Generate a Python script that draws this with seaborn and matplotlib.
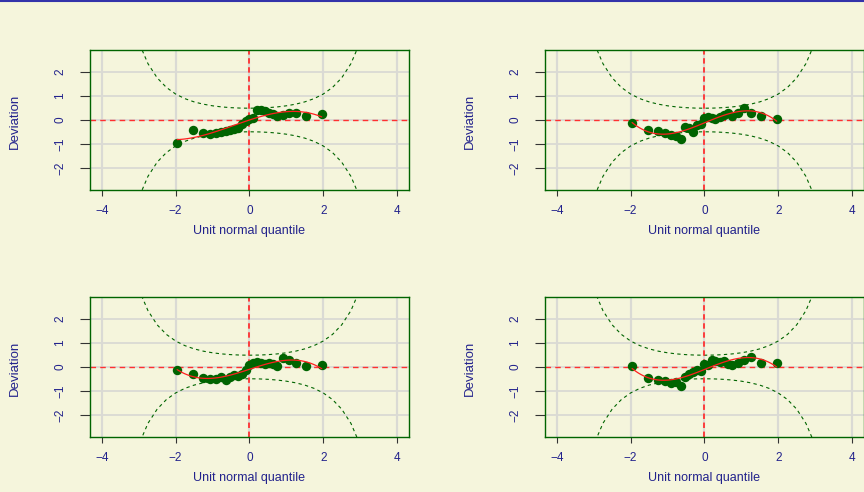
import math
import numpy as np
import pandas as pd
import seaborn as sns
import matplotlib.pyplot as plt
from matplotlib.lines import Line2D

# unit normal quantiles of the 25 residuals
quantiles = [-1.96, -1.52, -1.26, -1.07, -0.90, -0.76, -0.64, -0.52, -0.41, -0.30,
             -0.20, -0.10, 0.00, 0.10, 0.20, 0.30, 0.41, 0.52, 0.64, 0.76,
             0.90, 1.07, 1.26, 1.52, 1.96]

# deviations for the four worm plots
dev_1 = [-0.95, -0.42, -0.55, -0.58, -0.55, -0.50, -0.44, -0.40, -0.36, -0.33,
         -0.17, -0.05, 0.05, 0.08, 0.40, 0.42, 0.36, 0.30, 0.25, 0.18,
         0.22, 0.28, 0.30, 0.18, 0.25]
dev_2 = [-0.14, -0.42, -0.45, -0.55, -0.62, -0.68, -0.80, -0.30, -0.35, -0.50,
         -0.22, -0.15, 0.10, 0.12, 0.10, 0.05, 0.12, 0.20, 0.30, 0.18,
         0.30, 0.48, 0.28, 0.17, 0.05]
dev_3 = [-0.12, -0.30, -0.44, -0.50, -0.52, -0.42, -0.54, -0.42, -0.33, -0.38,
         -0.28, -0.12, 0.10, 0.15, 0.20, 0.16, 0.12, 0.16, 0.14, 0.04,
         0.36, 0.28, 0.18, 0.04, 0.07]
dev_4 = [0.04, -0.45, -0.55, -0.60, -0.65, -0.62, -0.78, -0.42, -0.30, -0.22,
         -0.12, -0.18, 0.12, 0.10, 0.30, 0.25, 0.22, 0.25, 0.12, 0.10,
         0.15, 0.28, 0.40, 0.18, 0.18]

x_ticks = [-4, -2, 0, 2, 4]
y_ticks = [-2, -1, 0, 1, 2]

bg = "#f5f5dc"
navy = "#22228c"
dkgreen = "#006400"

sns.set_theme(style="white", rc={"axes.facecolor": bg, "figure.facecolor": bg})
plt.rcParams["font.family"] = ["Liberation Sans", "DejaVu Sans"]

# 95% confidence bands of the worm plot
n = len(quantiles)
z = np.arange(-4.0, 4.001, 0.25)
p = 0.5 * (1 + np.vectorize(math.erf)(z / math.sqrt(2)))
dens = np.exp(-z ** 2 / 2) / math.sqrt(2 * math.pi)
high = 1.959964 * np.sqrt(p * (1 - p) / n) / dens

fig = plt.figure(figsize=(8.64, 4.92), dpi=100)
positions = [
    [0.1042, 0.6138, 0.3690, 0.2846],
    [0.6308, 0.6138, 0.3690, 0.2846],
    [0.1042, 0.1118, 0.3690, 0.2846],
    [0.6308, 0.1118, 0.3690, 0.2846],
]

for pos, dev in zip(positions, [dev_1, dev_2, dev_3, dev_4]):
    ax = fig.add_axes(pos)
    df = pd.DataFrame({"q": quantiles, "dev": dev})

    for xv in x_ticks:
        ax.axvline(xv, color="#dadad4", lw=1.6, zorder=0)
    for yv in y_ticks:
        ax.axhline(yv, color="#dadad4", lw=1.3, zorder=0)

    ax.plot(z, high, color=dkgreen, ls=(0, (3, 3)), lw=0.8)
    ax.plot(z, -high, color=dkgreen, ls=(0, (3, 3)), lw=0.8)
    ax.axhline(0, color="#ff3030", ls=(0, (4, 3)), lw=1.0)
    ax.axvline(0, color="#ff3030", ls=(0, (3, 2)), lw=1.3)

    sns.scatterplot(data=df, x="q", y="dev", color=dkgreen, s=46,
                    edgecolor=dkgreen, linewidth=0, ax=ax, zorder=3)
    sns.regplot(data=df, x="q", y="dev", order=3, ci=None, scatter=False,
                line_kws={"color": "#ff2020", "lw": 0.9, "zorder": 4}, ax=ax)

    ax.set_xlim(-4.32, 4.32)
    ax.set_ylim(-2.92, 2.92)
    ax.set_xticks(x_ticks)
    ax.set_xticklabels(["\u22124", "\u22122", "0", "2", "4"])
    ax.set_yticks(y_ticks)
    ax.set_yticklabels([str(v).replace("-", "\u2212") for v in y_ticks],
                       rotation=90, va="center")
    ax.tick_params(axis="x", length=4, width=0.8, color="#333333", pad=7,
                   labelsize=8.5, labelcolor=navy, bottom=True)
    ax.tick_params(axis="y", length=7, width=0.8, color="#333333", pad=10,
                   labelsize=8.5, labelcolor=navy, left=True)
    for sp in ax.spines.values():
        sp.set_color(dkgreen)
        sp.set_linewidth(1.0)

    ax.set_xlabel("Unit normal quantile", color=navy, fontsize=9)
    ax.set_ylabel("Deviation", color=navy, fontsize=9.5,
                  family=["Liberation Sans Narrow", "Liberation Sans"])
    ax.xaxis.set_label_coords(0.5, -0.29)
    ax.xaxis.label.set_va("center")
    ax.yaxis.set_label_coords(-0.236, 0.49)
    ax.yaxis.label.set_va("center")

fig.add_artist(Line2D([0, 1], [0.998, 0.998], transform=fig.transFigure,
                      color="#3333aa", lw=1.5))

fig.savefig("out.png", dpi=100, facecolor=bg)
